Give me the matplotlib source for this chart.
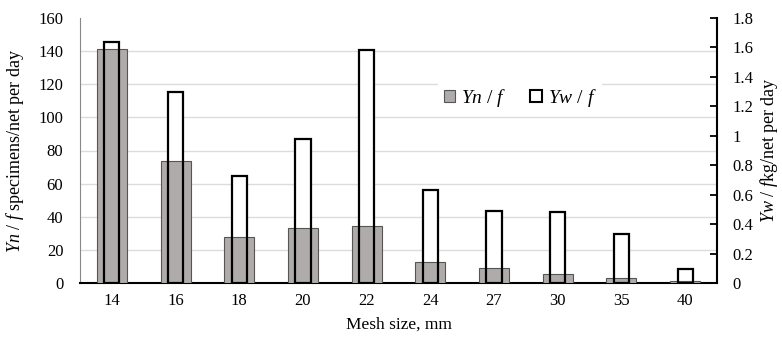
import numpy as np
import matplotlib.pyplot as plt
from matplotlib.patches import Patch

plt.rcParams['font.family'] = 'Liberation Serif'
plt.rcParams['mathtext.fontset'] = 'custom'
plt.rcParams['mathtext.rm'] = 'Liberation Serif'
plt.rcParams['mathtext.it'] = 'Liberation Serif:italic'

# Datos
mesh = ['14', '16', '18', '20', '22', '24', '27', '30', '35', '40']
yn_f = [141.5, 73.5, 28, 33.5, 34.5, 12.5, 9, 5.5, 3, 1]          # specimens/net per day
yw_f = [1.64, 1.30, 0.73, 0.98, 1.58, 0.63, 0.49, 0.485, 0.33, 0.095]  # kg/net per day

x = np.arange(len(mesh))
grey = '#b0abab'

fig = plt.figure(figsize=(7.82, 3.42), dpi=100)
rect = [80/782, 1 - 283/342, 637/782, 265/342]

ax = fig.add_axes(rect)            # escala izquierda, barras grises
ax2 = ax.twinx()                   # escala derecha, fondo + relleno blanco
ax3 = fig.add_axes(rect, sharex=ax, sharey=ax2)  # contornos blancos encima

ax2.set_zorder(1)
ax.set_zorder(2)
ax3.set_zorder(3)
ax.patch.set_visible(False)
ax3.axis('off')

# eje derecho
ax2.set_ylim(0, 1.8)
ax2.set_yticks(np.arange(0, 1.81, 0.2))
ax2.set_yticklabels(['0', '0.2', '0.4', '0.6', '0.8', '1', '1.2', '1.4', '1.6', '1.8'])
ax2.set_yticks(np.linspace(0, 1.8, 9), minor=True)
ax2.grid(which='minor', axis='y', color='#dcdcdc', lw=1.0)
ax2.tick_params(axis='y', which='minor', length=0)
ax2.tick_params(axis='y', which='major', direction='in', length=5, width=1.3,
                labelsize=12, pad=11)
ax2.bar(x, yw_f, width=0.24, color='white', edgecolor='none', zorder=2)

# eje izquierdo
ax.bar(x, yn_f, width=0.47, color=grey, edgecolor='#555555', lw=0.8, zorder=3)
ax.set_ylim(0, 160)
ax.set_yticks(np.arange(0, 161, 20))
ax.tick_params(axis='y', length=0, labelsize=12, pad=12)
ax.set_xlim(-0.5, len(mesh) - 0.5)
ax.set_xticks(x)
ax.set_xticklabels(mesh)
ax.tick_params(axis='x', length=0, labelsize=12, pad=7)

ax3.bar(x, yw_f, width=0.24, facecolor='none', edgecolor='black', lw=1.6)
ax3.set_ylim(0, 1.8)

for a in (ax, ax2):
    for s in a.spines.values():
        s.set_visible(False)
ax.spines['bottom'].set_visible(True)
ax.spines['bottom'].set_linewidth(1.5)
ax.spines['left'].set_visible(True)
ax.spines['left'].set_color('#888888')
ax.spines['left'].set_linewidth(0.8)
ax2.spines['right'].set_visible(True)
ax2.spines['right'].set_linewidth(1.5)

ax.set_xlabel('Mesh size, mm', fontsize=12.5, labelpad=6)
ax.set_ylabel(r'$Yn$ / $f$ specimens/net per day', fontsize=13)
ax2.set_ylabel(r'$Yw$ / $f$kg/net per day', fontsize=13, rotation=90)
ax.yaxis.set_label_coords(-0.084, 0.5)
ax2.yaxis.set_label_coords(1.064, 0.5)

handles = [Patch(facecolor=grey, edgecolor='#555555', lw=0.8, label=r'$Yn$ / $f$'),
           Patch(facecolor='white', edgecolor='black', lw=1.5, label=r'$Yw$ / $f$')]
leg = ax3.legend(handles=handles, loc='center', ncol=2,
                 bbox_to_anchor=(520/782, 1 - 98/342), bbox_transform=fig.transFigure,
                 fontsize=14, handlelength=0.6, handleheight=0.6, handletextpad=0.3,
                 columnspacing=1.2, frameon=True, fancybox=False, borderpad=0.3)
leg.get_frame().set_facecolor('white')
leg.get_frame().set_edgecolor('none')
leg.get_frame().set_alpha(1)

fig.savefig('out.png', dpi=100)
